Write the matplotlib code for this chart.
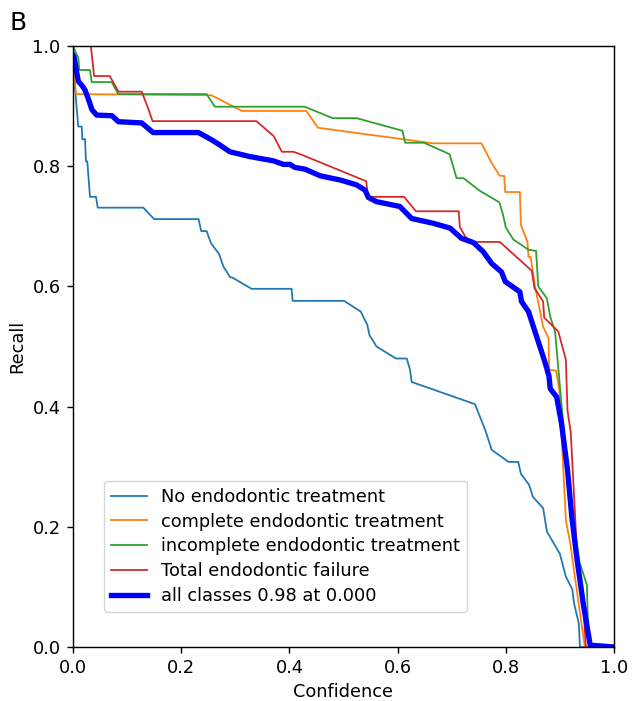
import numpy as np
import matplotlib.pyplot as plt

# recall vs confidence curves
no_endo_x = [0, 0.0055, 0.0098, 0.0161, 0.0172, 0.0222, 0.024, 0.0264, 0.0314, 0.0425, 0.0457, 0.130, 0.150,
             0.232, 0.237, 0.247, 0.255, 0.270, 0.278, 0.290, 0.296, 0.330, 0.404, 0.406, 0.501, 0.532, 0.544,
             0.548, 0.561, 0.597, 0.617, 0.623, 0.626, 0.743, 0.762, 0.774, 0.805, 0.823, 0.828, 0.843, 0.850,
             0.869, 0.876, 0.900, 0.911, 0.923, 0.926, 0.935, 0.937, 1.0]
no_endo_y = [0.980, 0.910, 0.866, 0.866, 0.845, 0.845, 0.808, 0.808, 0.749, 0.749, 0.731, 0.731, 0.712,
             0.712, 0.692, 0.692, 0.672, 0.654, 0.633, 0.616, 0.614, 0.596, 0.596, 0.576, 0.576, 0.558, 0.536,
             0.519, 0.500, 0.480, 0.480, 0.461, 0.441, 0.404, 0.361, 0.328, 0.308, 0.308, 0.288, 0.270, 0.250,
             0.231, 0.192, 0.155, 0.117, 0.096, 0.073, 0.039, 0.0, 0.0]

complete_x = [0, 0.003, 0.0055, 0.256, 0.312, 0.431, 0.453, 0.666, 0.755, 0.774, 0.789, 0.797, 0.799, 0.826,
              0.828, 0.840, 0.842, 0.846, 0.854, 0.869, 0.879, 0.880, 0.893, 0.899, 0.911, 0.919, 0.946, 1.0]
complete_y = [0.970, 0.946, 0.920, 0.918, 0.892, 0.892, 0.864, 0.838, 0.838, 0.805, 0.784, 0.784, 0.757, 0.757,
              0.702, 0.674, 0.649, 0.649, 0.600, 0.533, 0.514, 0.461, 0.460, 0.428, 0.211, 0.173, 0.0, 0.0]

incomplete_x = [0, 0.0098, 0.0116, 0.0314, 0.0346, 0.0715, 0.0837, 0.247, 0.262, 0.428, 0.480, 0.524, 0.609,
                0.614, 0.649, 0.696, 0.703, 0.709, 0.722, 0.752, 0.788, 0.795, 0.800, 0.814, 0.842, 0.856, 0.860,
                0.876, 0.882, 0.891, 0.899, 0.909, 0.922, 0.936, 0.950, 0.951, 0.954, 1.0]
incomplete_y = [1.0, 0.980, 0.960, 0.960, 0.940, 0.940, 0.920, 0.920, 0.899, 0.899, 0.880, 0.880, 0.859,
                0.839, 0.839, 0.820, 0.799, 0.780, 0.780, 0.759, 0.740, 0.719, 0.698, 0.678, 0.661, 0.659, 0.600,
                0.580, 0.550, 0.525, 0.444, 0.344, 0.228, 0.142, 0.103, 0.062, 0.0, 0.0]

failure_x = [0, 0.033, 0.039, 0.068, 0.084, 0.127, 0.139, 0.147, 0.339, 0.371, 0.386, 0.407, 0.420, 0.542,
             0.545, 0.612, 0.634, 0.713, 0.715, 0.725, 0.736, 0.789, 0.848, 0.853, 0.869, 0.871, 0.897, 0.911,
             0.914, 0.920, 0.931, 0.943, 0.948, 1.0]
failure_y = [1.0, 1.0, 0.950, 0.950, 0.924, 0.924, 0.896, 0.875, 0.875, 0.850, 0.824, 0.824, 0.820, 0.775,
             0.749, 0.749, 0.725, 0.725, 0.699, 0.683, 0.674, 0.674, 0.626, 0.597, 0.575, 0.548, 0.525, 0.478,
             0.394, 0.358, 0.167, 0.073, 0.0, 0.0]

all_x = [0, 0.002, 0.007, 0.010, 0.016, 0.022, 0.028, 0.035, 0.044, 0.072, 0.084, 0.127, 0.148, 0.232, 0.256,
         0.272, 0.290, 0.327, 0.370, 0.389, 0.401, 0.410, 0.429, 0.457, 0.494, 0.524, 0.540, 0.546, 0.561,
         0.604, 0.626, 0.666, 0.697, 0.718, 0.740, 0.758, 0.774, 0.792, 0.799, 0.826, 0.829, 0.842, 0.851,
         0.863, 0.872, 0.880, 0.882, 0.894, 0.903, 0.914, 0.922, 0.931, 0.943, 0.956, 1.0]
all_y = [0.985, 0.982, 0.955, 0.941, 0.935, 0.927, 0.913, 0.894, 0.885, 0.884, 0.874, 0.872, 0.856, 0.856,
         0.844, 0.835, 0.824, 0.816, 0.809, 0.803, 0.803, 0.798, 0.795, 0.784, 0.777, 0.769, 0.760, 0.748,
         0.741, 0.733, 0.713, 0.705, 0.697, 0.680, 0.673, 0.658, 0.638, 0.624, 0.608, 0.591, 0.575, 0.558,
         0.533, 0.500, 0.475, 0.450, 0.430, 0.416, 0.372, 0.295, 0.217, 0.150, 0.073, 0.003, 0.0]

s = 1.28  # reference looks like a default figure rendered at a higher dpi
plt.rcParams.update({
    'font.size': 10 * s,
    'axes.linewidth': 0.8 * s,
    'xtick.major.width': 0.8 * s,
    'ytick.major.width': 0.8 * s,
    'xtick.major.size': 3.5 * s,
    'ytick.major.size': 3.5 * s,
    'xtick.major.pad': 3.5 * s,
    'ytick.major.pad': 3.5 * s,
})

fig = plt.figure(figsize=(6.33, 7.01), dpi=100)
ax = fig.add_axes([73 / 633, 54 / 701, 541 / 633, 601 / 701])

ax.plot(no_endo_x, no_endo_y, linewidth=1 * s, label='No endodontic treatment')
ax.plot(complete_x, complete_y, linewidth=1 * s, label='complete endodontic treatment')
ax.plot(incomplete_x, incomplete_y, linewidth=1 * s, label='incomplete endodontic treatment')
ax.plot(failure_x, failure_y, linewidth=1 * s, label='Total endodontic failure')
ax.plot(all_x, all_y, linewidth=3 * s, color='blue', label='all classes 0.98 at 0.000')

ax.set_xlim(0, 1)
ax.set_ylim(0, 1)
ax.set_xlabel('Confidence')
ax.set_ylabel('Recall')
ax.legend(loc='lower left', bbox_to_anchor=(31 / 541, 35 / 601), borderaxespad=0, labelspacing=0.38)
fig.text(10 / 633, 1 - 30 / 701, 'B', fontsize=14 * s)

fig.savefig('out.png')
